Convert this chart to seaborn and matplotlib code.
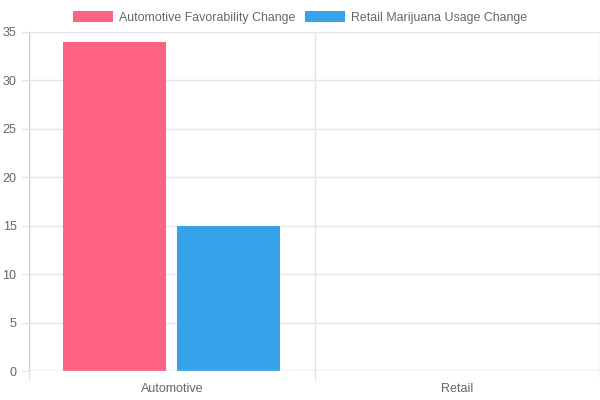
import matplotlib
matplotlib.use("Agg")
import matplotlib.pyplot as plt
import seaborn as sns
import pandas as pd

# chart data
categories = ["Automotive", "Retail"]
series_names = ["Automotive Favorability Change", "Retail Marijuana Usage Change"]
automotive_favorability = [34, 0]
retail_marijuana_usage = [15, 0]
y_ticks = [0, 5, 10, 15, 20, 25, 30, 35]

colors = ["#FF6384", "#36A2EB"]
grid_color = "#e5e5e5"
text_color = "#666666"

df = pd.DataFrame({
    "category": categories * 2,
    "series": [series_names[0]] * 2 + [series_names[1]] * 2,
    "value": automotive_favorability + retail_marijuana_usage,
})

sns.set_theme(style="white")
plt.rcParams["font.family"] = ["Liberation Sans", "DejaVu Sans"]

fig = plt.figure(figsize=(6, 4), dpi=100)
ax = fig.add_axes([29 / 600, 29 / 400, 571 / 600, 339 / 400])

sns.barplot(
    data=df, x="category", y="value", hue="series",
    palette=colors, width=0.8, gap=0.1, saturation=1,
    edgecolor=None, linewidth=0, ax=ax, legend=True,
)

ax.set_xlim(-0.5, 1.5)
ax.set_ylim(0, 35)
ax.set_yticks(y_ticks)
ax.set_xlabel("")
ax.set_ylabel("")

# horizontal grid
for y in y_ticks:
    ax.axhline(y, color=grid_color, lw=1, zorder=0)
# vertical grid at category boundaries
for x in [-0.5, 0.5, 1.5]:
    ax.axvline(x, color=grid_color, lw=1, zorder=0)
    ax.plot([x, x], [0, -0.9], color=grid_color, lw=1, clip_on=False)
for y in y_ticks:
    ax.plot([-0.5, -0.525], [y, y], color=grid_color, lw=1, clip_on=False)

ax.axhline(0, color="#cccccc", lw=1, zorder=1)
ax.axvline(-0.5, color="#cccccc", lw=1, zorder=1)

for s in ax.spines.values():
    s.set_visible(False)
ax.tick_params(axis="both", length=0, labelsize=9, colors=text_color)
ax.tick_params(axis="y", pad=9)
ax.tick_params(axis="x", pad=9)

handles, labels = ax.get_legend_handles_labels()
ax.get_legend().remove()
fig.legend(
    handles, labels, loc="upper center", bbox_to_anchor=(0.5, 1.0),
    ncol=2, frameon=False, fontsize=8.9, labelcolor=text_color,
    handlelength=3.2, handleheight=0.96, handletextpad=0.48, columnspacing=0.8,
    borderaxespad=0.5,
)

fig.savefig("out.png", dpi=100, facecolor="white")
